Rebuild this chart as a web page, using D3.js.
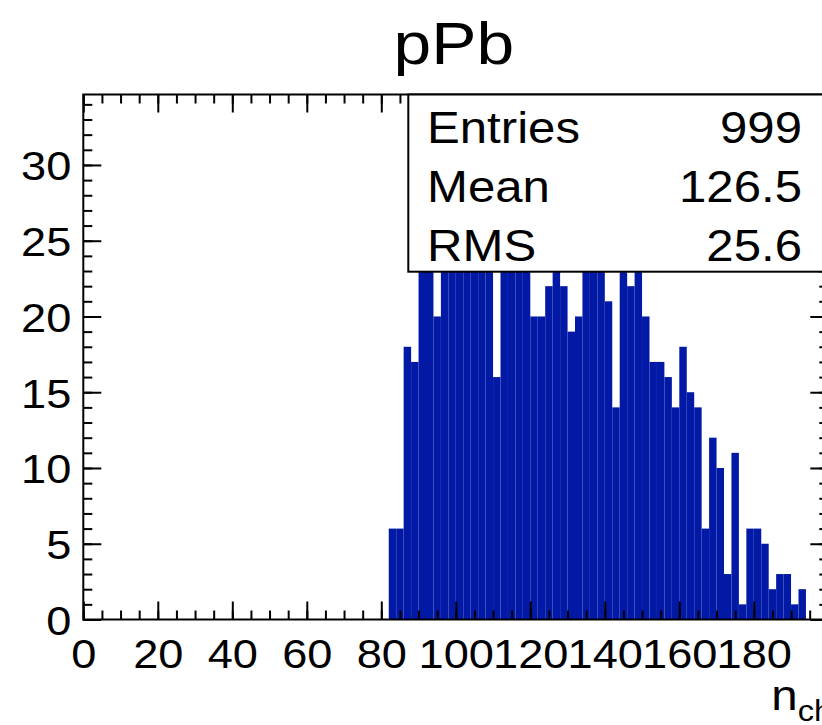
<!DOCTYPE html>
<html>
<head>
<meta charset="utf-8">
<script src="https://cdn.jsdelivr.net/npm/d3@7"></script>
<style>
  html, body { margin: 0; padding: 0; background: #fff; }
  svg { display: block; }
  text { font-family: "Liberation Sans", Arial, Helvetica, sans-serif; fill: #000; }
</style>
</head>
<body>
<svg id="chart" width="822" height="725"></svg>
<script>
// ---- data (histogram of n_ch, bin width 2) ----
const title = "pPb";
const xTitle = "n";
const xTitleSub = "ch";
const binWidth = 2;
const binLow = [82,84,86,88,90,92,94,96,98,100,102,104,106,108,110,112,114,116,118,120,
                122,124,126,128,130,132,134,136,138,140,142,144,146,148,150,152,154,156,158,160,
                162,164,166,168,170,172,174,176,178,180,182,184,186,188,190,192];
const counts = [6,6,18,17,27,30,20,29,26,31,28,33,27,30,16,25,29,31,26,20,
                20,22,28,22,19,20,30,25,27,21,14,24,22,28,20,17,17,16,14,18,
                15,14,6,12,10,3,11,1,6,6,5,2,3,3,1,2];
const xMajorTicks = [0,20,40,60,80,100,120,140,160,180];
const xMinorTicks = d3.range(0, 201, 5);
const yMajorTicks = [0,5,10,15,20,25,30];
const yMinorTicks = d3.range(0, 35, 1);
const statLabels = ["Entries", "Mean", "RMS"];
const statValues = ["999", "126.5", "25.6"];

// ---- layout ----
const svg = d3.select("#chart");
const frame = { left: 83.3, right: 828.3, top: 94.5, bottom: 619.5 };
const x = d3.scaleLinear().domain([0, 200]).range([frame.left, frame.right]);
const yMax = d3.max(counts) * 1.05;
const y = d3.scaleLinear().domain([0, yMax]).range([frame.bottom, frame.top]);
const SX = 1.13; // horizontal stretch of the reference lettering

function stretch(sel) {
  sel.each(function() {
    const t = d3.select(this);
    const tx = +t.attr("x") || 0, ty = +t.attr("y") || 0;
    t.attr("x", 0).attr("y", 0).attr("transform", `translate(${tx},${ty}) scale(${SX},1)`);
  });
}

const barColor = "#0219a6";

// bars
svg.append("g").selectAll("rect")
  .data(binLow.map((b, i) => ({ lo: b, n: counts[i] })))
  .join("rect")
  .attr("x", d => x(d.lo))
  .attr("width", d => x(d.lo + binWidth) - x(d.lo))
  .attr("y", d => y(d.n))
  .attr("height", d => y(0) - y(d.n))
  .attr("fill", barColor);

// axes (ticks inside the frame, ROOT style)
function styleAxis(g) {
  g.select(".domain").remove();
  g.selectAll(".tick line").attr("stroke", "#000").attr("stroke-width", 2);
}

// bottom
svg.append("g").attr("transform", `translate(0,${frame.bottom})`)
  .call(d3.axisBottom(x).tickValues(xMinorTicks).tickSizeInner(-9).tickSizeOuter(0).tickFormat(""))
  .call(styleAxis);
const xb = svg.append("g").attr("transform", `translate(0,${frame.bottom})`)
  .call(d3.axisBottom(x).tickValues(xMajorTicks).tickSizeInner(-18).tickSizeOuter(0).tickFormat(d3.format("d")))
  .call(styleAxis);
xb.selectAll("text").attr("y", 48).attr("dy", null)
  .attr("font-size", 40).attr("fill", "#000").call(stretch);

// top
svg.append("g").attr("transform", `translate(0,${frame.top})`)
  .call(d3.axisTop(x).tickValues(xMinorTicks).tickSizeInner(-9).tickSizeOuter(0).tickFormat(""))
  .call(styleAxis);
svg.append("g").attr("transform", `translate(0,${frame.top})`)
  .call(d3.axisTop(x).tickValues(xMajorTicks).tickSizeInner(-18).tickSizeOuter(0).tickFormat(""))
  .call(styleAxis);

// left
svg.append("g").attr("transform", `translate(${frame.left},0)`)
  .call(d3.axisLeft(y).tickValues(yMinorTicks).tickSizeInner(-9).tickSizeOuter(0).tickFormat(""))
  .call(styleAxis);
const yl = svg.append("g").attr("transform", `translate(${frame.left},0)`)
  .call(d3.axisLeft(y).tickValues(yMajorTicks).tickSizeInner(-18).tickSizeOuter(0).tickPadding(12).tickFormat(d3.format("d")))
  .call(styleAxis);
yl.selectAll("text").attr("dy", null).attr("y", 15)
  .attr("font-size", 40).attr("fill", "#000").call(stretch);

// right
svg.append("g").attr("transform", `translate(${frame.right},0)`)
  .call(d3.axisRight(y).tickValues(yMinorTicks).tickSizeInner(-9).tickSizeOuter(0).tickFormat(""))
  .call(styleAxis);
svg.append("g").attr("transform", `translate(${frame.right},0)`)
  .call(d3.axisRight(y).tickValues(yMajorTicks).tickSizeInner(-18).tickSizeOuter(0).tickFormat(""))
  .call(styleAxis);

// frame
svg.append("rect")
  .attr("x", frame.left).attr("y", frame.top)
  .attr("width", frame.right - frame.left).attr("height", frame.bottom - frame.top)
  .attr("fill", "none").attr("stroke", "#000").attr("stroke-width", 2);

// title
svg.append("text")
  .attr("x", (frame.left + frame.right) / 2 - 2).attr("y", 64)
  .attr("text-anchor", "middle").attr("font-size", 60)
  .text(title).call(stretch);

// x axis title n_ch (right aligned at the axis end)
const xt = svg.append("text")
  .attr("x", frame.right + 4).attr("y", 710)
  .attr("text-anchor", "end").attr("font-size", 42);
xt.append("tspan").text(xTitle);
xt.append("tspan").attr("font-size", 29).attr("dy", 11).text(xTitleSub);
xt.call(stretch);

// stats box
const box = { left: 408.3, top: frame.top, right: frame.right, bottom: 271.7 };
svg.append("rect")
  .attr("x", box.left).attr("y", box.top)
  .attr("width", box.right - box.left).attr("height", box.bottom - box.top)
  .attr("fill", "#fff").attr("stroke", "#000").attr("stroke-width", 2);
const rowBase = [143, 202, 261];
svg.append("g").selectAll("text.lab").data(statLabels).join("text")
  .attr("class", "lab")
  .attr("x", 427).attr("y", (d, i) => rowBase[i])
  .attr("font-size", 43.5).text(d => d).call(stretch);
svg.append("g").selectAll("text.val").data(statValues).join("text")
  .attr("class", "val")
  .attr("x", 802).attr("y", (d, i) => rowBase[i])
  .attr("text-anchor", "end").attr("font-size", 43.5).text(d => d).call(stretch);
</script>
</body>
</html>
